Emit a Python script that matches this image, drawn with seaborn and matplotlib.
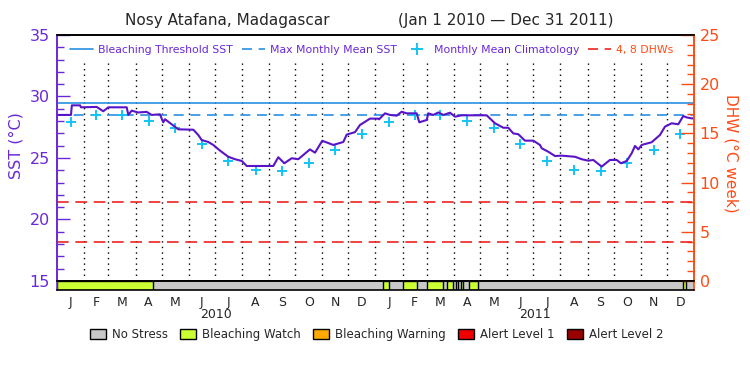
import numpy as np
import pandas as pd
import matplotlib
matplotlib.use('Agg')
import matplotlib.pyplot as plt
import seaborn as sns
from matplotlib.lines import Line2D
from matplotlib.patches import Patch
from matplotlib.ticker import MultipleLocator

sns.set_style('white')
plt.rcParams['font.family'] = ['DejaVu Sans']

start = pd.Timestamp('2010-01-01')
stop = pd.Timestamp('2012-01-01')
n_days = (stop - start).days

# SST trace, day offset from Jan 1 2010 / deg C
sst_day = [0, 16, 17, 26.4, 27.5, 45.5, 53, 58.8, 79.9, 81.7, 85.6, 92.8, 102.8, 108.5,
           118, 120, 121.8, 123.8, 131.4, 139, 156.2, 161.9, 165.8, 173.4, 179.1, 186.8,
           188.7, 196.3, 204, 211.7, 217.4, 247.9, 253.6, 260.5, 269, 276.5, 289.9, 295.7,
           304, 316.6, 328.1, 332, 341.5, 347.2, 358.7, 368.2, 369, 375.9, 381.6, 389.3,
           395, 400.8, 412.2, 415.2, 423.7, 425.5, 431.2, 437, 442.7, 450.4, 456.1, 463.8,
           492.4, 502, 511.5, 517.2, 522.9, 528.7, 536.3, 545.9, 553.5, 555.5, 563, 570.7,
           578.4, 593.6, 601.3, 608.9, 614.6, 624.2, 633.7, 641.4, 646.3, 652.9, 658.6,
           662.4, 666.2, 670.1, 681.5, 691, 696.8, 704.5, 712, 717.7, 721.6, 727.4, 730]
sst_val = [28.5, 28.5, 29.28, 29.28, 29.12, 29.15, 28.8, 29.12, 29.12, 28.5, 28.85, 28.7, 28.75, 28.5,
           28.55, 28.2, 27.9, 28.15, 27.74, 27.33, 27.3, 26.87, 26.46, 26.3, 26.06, 25.6,
           25.5, 25.1, 24.9, 24.76, 24.35, 24.35, 25.06, 24.57, 24.98, 24.9, 25.7, 25.43,
           26.4, 26.06, 26.3, 26.9, 27.1, 27.68, 28.2, 28.2, 28.14, 28.63, 28.5, 28.44,
           28.76, 28.63, 28.63, 27.9, 28.09, 28.63, 28.5, 28.7, 28.5, 28.68, 28.36, 28.47,
           28.47, 27.82, 27.46, 27.46, 27.0, 26.93, 26.41, 26.41, 26.06, 25.79, 25.51, 25.16,
           25.19, 25.1, 24.9, 24.78, 24.84, 24.3, 24.84, 24.84, 24.57, 24.76, 25.38,
           25.98, 25.7, 26.06, 26.28, 26.87, 27.55, 27.82, 27.74, 28.41, 28.3, 28.22, 28.22]

# monthly mean climatology, Jan..Dec
clim_val = [27.9, 28.47, 28.47, 28.03, 27.46, 26.12, 24.78, 24.02, 23.94, 24.57, 25.65, 26.93]
mmm = 28.47
threshold = mmm + 1.0
dhw_levels = [4, 8]

# bleaching watch periods (day offsets), everything else is no stress
watch_start = [0, 374, 396.2, 423.7, 447.3, 457.2, 463, 472.5, 717.7]
watch_end = [110.4, 380.5, 413, 442.7, 454.2, 459.5, 465.3, 482.8, 720.5]

month_letters = list('JFMAMJJASOND') * 2
years = ['2010', '2011']

purple = '#5a14c8'
axis_purple = '#6a28d8'
orange = '#ff4a14'
blue = '#2a90e0'
cyan = '#12c4f4'
red = '#ee2222'

month_starts = pd.date_range(start, stop, freq='MS')
m_edges = np.array([(d - start).days for d in month_starts], dtype=float)
m_mids = (m_edges[:-1] + m_edges[1:]) / 2
y_edges = np.array([0, (pd.Timestamp('2011-01-01') - start).days, n_days], dtype=float)
y_mids = (y_edges[:-1] + y_edges[1:]) / 2

clim = pd.DataFrame({'day': m_mids, 'sst': clim_val * 2})

fig = plt.figure(figsize=(7.5, 3.75), dpi=100)
ax = fig.add_axes([0.076, 0.2507, 0.8493, 0.656])
axb = fig.add_axes([0.076, 0.2267, 0.8493, 0.024], sharex=ax)

ax.set_xlim(0, n_days)
ax.set_ylim(15, 35)

for x in m_edges[1:-1]:
    ax.axvline(x, ymax=0.886, color='black', lw=1, linestyle=(0, (1, 3)), zorder=1)

ax.axhline(threshold, color=blue, lw=1.2, zorder=2)
ax.axhline(mmm, color=blue, lw=1.2, dashes=(6, 4), zorder=2)

sns.lineplot(x=sst_day, y=sst_val, ax=ax, color=purple, lw=1.5, zorder=4)
sns.scatterplot(data=clim, x='day', y='sst', ax=ax, marker='+', s=60,
                color=cyan, linewidth=1.4, zorder=3)

ax2 = ax.twinx()
ax2.set_ylim(0, 25)
for lv in dhw_levels:
    ax2.axhline(lv, color=red, lw=1.2, dashes=(7, 4))

# axes styling
ax.set_xlabel('')
ax.set_ylabel('SST (°C)', color=axis_purple, fontsize=11.5, va='center')
ax.yaxis.set_label_coords(-0.064, 0.55)
ax.yaxis.set_major_locator(MultipleLocator(5))
ax.yaxis.set_minor_locator(MultipleLocator(1))
ax.tick_params(axis='y', which='major', direction='in', length=9.5, width=1,
               color=axis_purple, labelcolor=axis_purple, labelsize=11.5, pad=5)
ax.tick_params(axis='y', which='minor', direction='in', length=5, width=1, color=axis_purple)
ax.tick_params(axis='x', which='both', bottom=False, labelbottom=False)

ax2.set_ylabel('DHW (°C week)', color=orange, fontsize=11, rotation=270, va='center')
ax2.yaxis.set_label_coords(1.058, 0.52)
ax2.yaxis.set_major_locator(MultipleLocator(5))
ax2.yaxis.set_minor_locator(MultipleLocator(1))
ax2.tick_params(axis='y', which='major', direction='in', length=9.5, width=1,
                color=orange, labelcolor=orange, labelsize=11.5, pad=4)
ax2.tick_params(axis='y', which='minor', direction='in', length=5, width=1, color=orange)

for a in (ax, ax2):
    a.spines['top'].set_color('black')
    a.spines['left'].set_color(axis_purple)
    a.spines['right'].set_color(orange)
    a.spines['bottom'].set_color('black')
    for s in a.spines.values():
        s.set_linewidth(1.2)

# stress bar
axb.set_ylim(0, 1)
axb.set_facecolor('#c8c8c8')
widths = [e - s for s, e in zip(watch_start, watch_end)]
axb.broken_barh(list(zip(watch_start, widths)), (0, 1), facecolors='#ccff33',
                edgecolors='black', linewidth=1)
axb.set_yticks([])
axb.set_xticks(m_mids)
axb.set_xticklabels(month_letters, fontsize=9)
axb.tick_params(axis='x', length=0, pad=4)
for name, s in axb.spines.items():
    s.set_color('black')
    s.set_linewidth(1.2)
axb.spines['left'].set_color(axis_purple)
axb.spines['right'].set_color(orange)
for xm, yr in zip(y_mids, years):
    axb.text(xm, -2.75, yr, transform=axb.get_xaxis_transform(), ha='center',
             va='center', fontsize=9)

# top legend
handles = [Line2D([], [], color=blue, lw=1.2),
           Line2D([], [], color=blue, lw=1.2, dashes=(6, 4)),
           Line2D([], [], color=cyan, lw=0, marker='+', markersize=8, markeredgewidth=1.4),
           Line2D([], [], color=red, lw=1.2, dashes=(6, 4))]
labels = ['Bleaching Threshold SST', 'Max Monthly Mean SST',
          'Monthly Mean Climatology', '4, 8 DHWs']
leg = ax2.legend(handles, labels, loc='center left', bbox_to_anchor=(0.014, 0.939),
                 ncol=4, frameon=False, fontsize=7.8, handlelength=2.1,
                 handletextpad=0.5, columnspacing=0.8, borderaxespad=0)
for t, c in zip(leg.get_texts(), [axis_purple, axis_purple, axis_purple, orange]):
    t.set_color(c)

# stress legend
stress_names = ['No Stress', 'Bleaching Watch', 'Bleaching Warning', 'Alert Level 1', 'Alert Level 2']
stress_colors = ['#c8c8c8', '#ccff33', '#ffaa00', '#ee0000', '#990000']
patches = [Patch(facecolor=c, edgecolor='black', lw=1) for c in stress_colors]
fig.legend(patches, stress_names, loc='center', bbox_to_anchor=(0.502, 0.107), ncol=5,
           frameon=False, fontsize=8.5, handlelength=1.4, handleheight=0.95,
           handletextpad=0.5, columnspacing=1.0)

fig.text(227.5 / 750, 1 - 20 / 375, 'Nosy Atafana, Madagascar', ha='center',
         va='center', fontsize=11)
fig.text(506 / 750, 1 - 20 / 375, '(Jan 1 2010 — Dec 31 2011)', ha='center',
         va='center', fontsize=11)

fig.savefig('out.png', dpi=100)
